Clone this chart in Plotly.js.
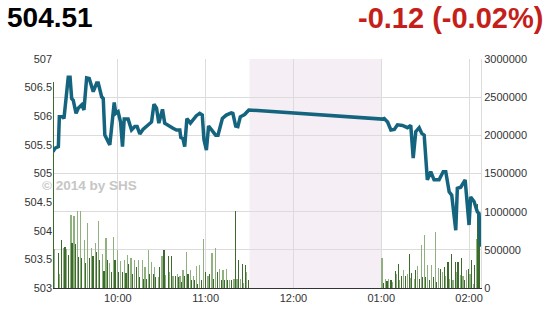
<!DOCTYPE html>
<html><head><meta charset="utf-8">
<script src="https://cdn.plot.ly/plotly-3.0.1.min.js"></script>
<style>html,body{margin:0;padding:0;background:#fff}#chart{width:559px;height:311px}</style>
</head><body><div id="chart"></div>
<script>
const DAY = "2014-06-02 ";
const headline = "504.51";
const change = "-0.12 (-0.02%)";
const watermark = "© 2014 by SHS";

const priceTimes = ["09:15:40","09:17:00","09:19:20","09:20:00","09:22:20","09:23:10","09:26:05","09:27:20","09:28:25","09:29:30",
"09:31:25","09:32:55","09:35:20","09:36:50","09:38:40","09:40:25","09:43:10","09:45:30","09:46:35","09:48:55",
"09:50:00","09:51:05","09:54:30","09:57:30","09:58:35","10:00:10","10:01:50","10:03:10","10:04:20","10:07:00",
"10:09:20","10:11:35","10:13:10","10:15:00","10:17:10","10:20:40","10:23:00","10:24:40","10:26:25","10:28:00",
"10:30:30","10:32:00","10:34:20","10:37:40","10:40:00","10:42:20","10:43:00","10:44:30","10:45:40","10:47:10",
"10:49:35","10:53:40","10:55:55","10:57:40","10:58:50","11:00:30","11:02:00","11:05:00","11:06:50","11:08:25",
"11:11:25","11:14:05","11:17:30","11:18:35","11:20:30","11:22:00","11:23:40","11:26:35","11:29:30",
"13:00:50","13:02:00","13:04:20","13:06:35","13:08:55","13:11:05","13:14:30","13:17:55","13:20:10","13:21:50",
"13:23:35","13:25:55","13:27:40","13:29:20","13:31:30","13:33:50","13:36:05","13:39:30","13:42:20","13:44:05",
"13:46:25","13:48:10","13:50:55","13:52:00","13:54:20","13:57:20","14:00:00","14:01:05","14:03:25","14:05:40",
"14:06:50","14:08:00"];
const priceValues = [505.38,505.44,505.47,505.99,505.99,505.96,506.68,506.68,506.31,506.28,
506.05,506.14,506.20,506.11,506.67,506.66,506.43,506.58,506.58,506.34,
506.31,505.67,505.50,506.24,506.05,506.08,505.90,505.47,505.95,505.95,
505.76,505.82,505.82,505.69,505.77,505.86,505.90,506.21,506.14,505.88,
506.12,505.88,505.85,505.79,505.76,505.76,505.63,505.61,505.47,505.96,
505.88,506.01,506.05,506.02,505.59,505.41,505.83,505.73,505.67,505.67,
505.96,506.02,506.06,506.05,505.83,505.82,505.99,506.03,506.11,
505.95,505.96,505.90,505.76,505.77,505.85,505.84,505.80,505.84,505.27,
505.73,505.80,505.70,505.67,504.89,505.03,504.89,504.89,505.03,505.03,
504.68,504.62,504.01,504.74,504.76,504.89,504.10,504.59,504.51,504.33,
504.30,503.72];

const volumeTimes = ["09:15:40","09:16:35","09:19:20","09:20:00","09:21:35","09:22:40","09:23:55","09:25:00","09:26:05","09:28:00",
"09:28:35","09:30:00","09:30:55","09:32:20","09:33:10","09:34:20","09:35:20","09:37:00","09:37:40","09:39:20",
"09:40:25","09:42:00","09:43:00","09:44:30","09:45:30","09:46:50","09:47:40","09:49:20","09:50:30","09:51:50",
"09:52:40","09:54:30","09:55:25","09:56:50","09:58:00","09:59:30","10:00:30","10:01:50","10:02:55","10:04:30",
"10:05:30","10:06:35","10:07:30","10:08:55","10:09:50","10:11:35","10:12:30","10:13:50","10:15:00","10:16:35",
"10:17:55","10:18:35","10:19:35","10:21:05","10:21:50","10:23:10","10:24:05","10:25:10","10:25:55","10:27:30",
"10:28:35","10:30:10","10:31:35","10:32:30","10:34:20","10:35:30","10:36:50","10:37:40","10:39:20","10:40:30",
"10:41:35","10:42:30","10:43:25","10:44:30","10:45:40","10:46:50","10:47:55","10:49:35","10:50:10","10:51:25",
"10:52:30","10:53:40","10:54:20","10:55:55","10:57:00","10:58:35","10:59:50","11:01:35","11:02:40","11:04:20",
"11:05:10","11:06:50","11:08:00","11:09:30","11:10:40","11:11:50","11:13:00","11:14:05","11:15:10","11:16:25",
"11:17:55","11:19:20","11:20:30","11:21:25","11:22:40","11:23:40","11:25:00","11:26:05","11:27:20","11:28:10",
"11:29:20",
"13:00:30","13:01:25","13:02:40","13:03:55","13:05:00","13:06:35","13:07:40","13:09:30","13:10:40","13:11:50",
"13:12:40","13:14:05","13:15:00","13:16:25","13:17:55","13:19:05","13:19:50","13:20:55","13:22:30","13:23:35",
"13:24:50","13:25:55","13:27:20","13:28:10","13:29:20","13:30:30","13:31:50","13:33:10","13:34:30","13:35:40",
"13:36:50","13:37:40","13:39:05","13:40:40","13:41:50","13:43:00","13:44:05","13:45:40","13:46:50","13:48:10",
"13:49:05","13:50:30","13:51:25","13:52:30","13:53:55","13:55:00","13:55:55","13:57:05","13:58:10","13:59:30",
"14:00:40","14:01:50","14:02:55","14:03:55","14:05:00","14:05:40","14:06:25","14:06:50"];
const volumeValues = [2700000,515000,458000,188000,624000,528000,537000,515000,428000,960000,
593000,938000,572000,1008000,406000,1003000,397000,633000,327000,851000,
397000,528000,414000,589000,471000,873000,362000,441000,223000,654000,
371000,327000,209000,668000,362000,502000,209000,353000,209000,371000,
196000,428000,310000,397000,188000,371000,275000,371000,144000,371000,
122000,275000,122000,502000,188000,340000,188000,275000,144000,144000,
275000,414000,502000,166000,414000,209000,414000,153000,153000,179000,
144000,153000,79000,240000,153000,471000,188000,240000,100000,153000,
100000,284000,57000,297000,100000,646000,209000,153000,179000,458000,
122000,528000,209000,253000,109000,231000,109000,253000,100000,100000,
100000,122000,1003000,122000,371000,122000,310000,65000,297000,209000,
100000,
397000,65000,122000,87000,122000,100000,79000,223000,188000,310000,
100000,153000,240000,153000,188000,441000,135000,196000,122000,240000,
284000,122000,558000,144000,689000,144000,297000,100000,297000,144000,
733000,79000,266000,253000,209000,275000,153000,340000,122000,441000,
100000,340000,209000,340000,166000,397000,153000,100000,231000,253000,
188000,371000,57000,297000,646000,1104000,624000,929000];

const priceTicks = [503,503.5,504,504.5,505,505.5,506,506.5,507];
const volumeTicks = [0,500000,1000000,1500000,2000000,2500000,3000000];
const breakStart = "11:30:00", breakEnd = "13:00:00";
const xStart = "09:15:40", xEnd = "14:08:10";

const F = "Arial, 'Liberation Sans', sans-serif";
const volColors = volumeValues.map((v,i)=> i%2===0 ? "#3d6b2d" : "#8fb07f");

const traces = [
  {type:"bar", x: volumeTimes.map(t=>DAY+t), y: volumeValues, yaxis:"y",
   marker:{color: volColors, line:{width:0}}, width: 50000, hoverinfo:"skip", showlegend:false},
  {type:"scatter", mode:"lines", x: priceTimes.map(t=>DAY+t), y: priceValues, yaxis:"y2",
   line:{color:"#14647f", width:3.5, shape:"linear"}, hoverinfo:"skip", showlegend:false}
];

const layout = {
  width:559, height:311,
  margin:{l:53, r:78, t:59, b:23},
  paper_bgcolor:"#fff", plot_bgcolor:"rgba(0,0,0,0)",
  font:{family:F, size:11, color:"#333"},
  bargap:0,
  xaxis:{type:"date", range:[DAY+xStart, DAY+xEnd], tick0: DAY+"10:00:00", dtick:3600000,
    tickformat:"%I:%M", showgrid:true, gridcolor:"#dcdcdc", gridwidth:1,
    showline:true, linecolor:"#333", linewidth:1, ticks:"", zeroline:false,
    tickfont:{family:F, size:11, color:"#333"}},
  yaxis:{side:"right", range:[0,3000000], tickvals: volumeTicks, tickformat:"d",
    showgrid:true, gridcolor:"#dcdcdc", zeroline:false, showline:true, linecolor:"#dcdcdc",
    ticks:"", tickfont:{family:F, size:11, color:"#333"}},
  yaxis2:{side:"left", overlaying:"y", range:[503,507], tickvals: priceTicks,
    showgrid:false, zeroline:false, showline:false, ticks:"",
    tickfont:{family:F, size:11, color:"#333"}},
  shapes:[{type:"rect", xref:"x", yref:"paper", x0:DAY+breakStart, x1:DAY+breakEnd, y0:0, y1:1,
    fillcolor:"#f5eff5", line:{width:0}, layer:"below"}],
  annotations:[
    {text: headline, xref:"paper", yref:"paper", x:-0.112, y:1.18, xanchor:"left", yanchor:"middle",
     showarrow:false, font:{family:F, size:28, color:"#000", weight:"bold"}},
    {text: change, xref:"paper", yref:"paper", x:1.15, y:1.18, xanchor:"right", yanchor:"middle",
     showarrow:false, font:{family:F, size:29, color:"#c41f1a", weight:"bold"}},
    {text: watermark, xref:"paper", yref:"paper", x:-0.031, y:0.447, xanchor:"left", yanchor:"middle",
     showarrow:false, font:{family:F, size:13.5, color:"#c6c6c6", weight:"bold"}}
  ]
};

Plotly.newPlot("chart", traces, layout, {staticPlot:true, displayModeBar:false});
</script>
</body></html>
